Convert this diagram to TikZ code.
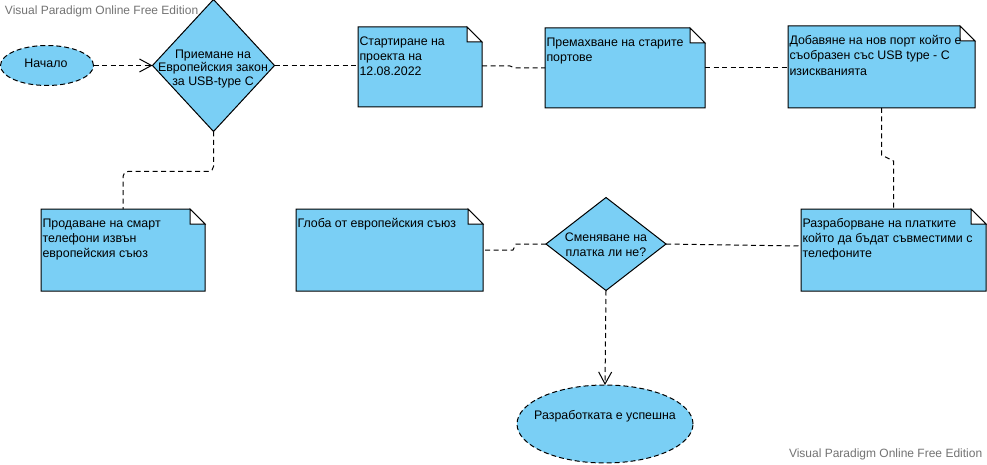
\documentclass[tikz,border=0pt]{standalone}
\usepackage{fontspec}
\setmainfont{Liberation Sans}
\usetikzlibrary{shapes.geometric,arrows.meta,calc}
\definecolor{vpblue}{RGB}{122,207,245}
\definecolor{wmgray}{RGB}{115,115,115}
\tikzset{
  base/.style={inner sep=0pt, outer sep=0pt},
  notebase/.style={base, rectangle, draw=none, fill=none},
  notefill/.style={fill=vpblue},
  noteline/.style={draw=black, line width=1pt, line join=miter},
  notetext/.style={base, inner xsep=1.5pt, inner ysep=9.5pt, align=left,
    font=\fontsize{12.4pt}{15.2pt}\selectfont},
  dia/.style={base, diamond, draw=black, line width=1pt, fill=vpblue},
  ell/.style={base, ellipse, draw=black, line width=1pt, fill=vpblue, dash pattern=on 5pt off 3pt},
  ctext/.style={base, align=center, font=\fontsize{12.4pt}{14.5pt}\selectfont},
  conn/.style={draw=black, line width=1pt, dash pattern=on 5pt off 3.5pt},
  arr/.style={conn, -{Straight Barb[length=12pt,width=13pt,line width=1pt]}},
  watermark/.style={base, text=wmgray, font=\fontsize{12pt}{14pt}\selectfont, anchor=west}
}
\newcommand{\mknote}[6]{%
  \node[notebase, minimum width=#4pt, minimum height=#5pt, anchor=north west] (#1) at (#2,#3) {};
  \fill[notefill] (#1.north west) -- ([xshift=-15pt]#1.north east) -- ([yshift=-15pt]#1.north east) -- (#1.south east) -- (#1.south west) -- cycle;
  \draw[noteline] (#1.north west) -- ([xshift=-15pt]#1.north east) -- ([yshift=-15pt]#1.north east) -- (#1.south east) -- (#1.south west) -- cycle;
  \draw[noteline, fill=white] ([xshift=-15pt]#1.north east) -- ([xshift=-15pt,yshift=-15pt]#1.north east) -- ([yshift=-15pt]#1.north east) -- cycle;
  \node[notetext, anchor=north west] (#1t) at (#1.north west) {#6};
}
\begin{document}
\begin{tikzpicture}[x=1pt,y=-1pt]
\useasboundingbox[fill=white] (0,0) rectangle (987,465);

% watermarks
\node[watermark] (wm1) at (5,11) {Visual Paradigm Online Free Edition};
\node[watermark] (wm2) at (789,454) {Visual Paradigm Online Free Edition};

% start
\node[ell, minimum width=93pt, minimum height=40pt] (start) at (47,65.5) {};
\node[ctext] (startt) at (46,63.5) {Начало};

% decision 1
\node[dia, minimum width=122pt, minimum height=132pt] (d1) at (213.5,65.5) {};
\node[ctext, font=\fontsize{12.4pt}{13.6pt}\selectfont] (d1t) at (213,69) {Приемане на\\Европейския закон\\за USB-type C};

% notes
\mknote{n1}{358}{27}{124}{80}{Стартиране на\\проекта на\\12.08.2022}
\mknote{n2}{545}{28}{160}{80}{Премахване на старите\\портове}
\mknote{n3}{788}{26}{187}{82}{Добавяне на нов порт който е\\съобразен със USB type - C\\изискванията}
\mknote{n4}{801}{209}{185}{82}{Разраборване на платките\\който да бъдат съвместими с\\телефоните}
\mknote{n5}{296}{209}{187}{82}{Глоба от европейския съюз}
\mknote{n6}{41}{209}{164}{82}{Продаване на смарт\\телефони извън\\европейския съюз}

% decision 2
\node[dia, minimum width=120pt, minimum height=93pt] (d2) at (606,244) {};
\node[ctext, font=\fontsize{12.4pt}{15pt}\selectfont] (d2t) at (606,245) {Сменяване на\\платка ли не?};

% end
\node[ell, minimum width=176pt, minimum height=78pt] (end) at (605,424) {};
\node[ctext] (endt) at (605,416.5) {Разработката е успешна};

% connectors
\draw[arr] (start.east) -- (d1.west);
\draw[conn] (d1.east) -- (d1.east -| n1.west);
\draw[conn] (n1.east) ++(0,-1) coordinate (c1a) -- ++(28,0) -- ($(n2.west)+(-30,0)$) -- (n2.west);
\draw[conn] (n2.east) -- (n2.east -| n3.west);
\draw[conn] (n3.south) -- ++(0,47) -- ($(n4.north)+(0,-48)$) -- (n4.north);
\draw[conn] (d2.east) -- ($(n4.west)+(0,-4)$);
\draw[conn] (d2.west) -- ++(-30,0) -- ($(n5.east)+(30,0)$) -- (n5.east);
\draw[conn, rounded corners=5pt] (d1.south) -- ++(0,40) -| (n6.north);
\draw[arr] (d2.south) -- (end.north);
\end{tikzpicture}
\end{document}
